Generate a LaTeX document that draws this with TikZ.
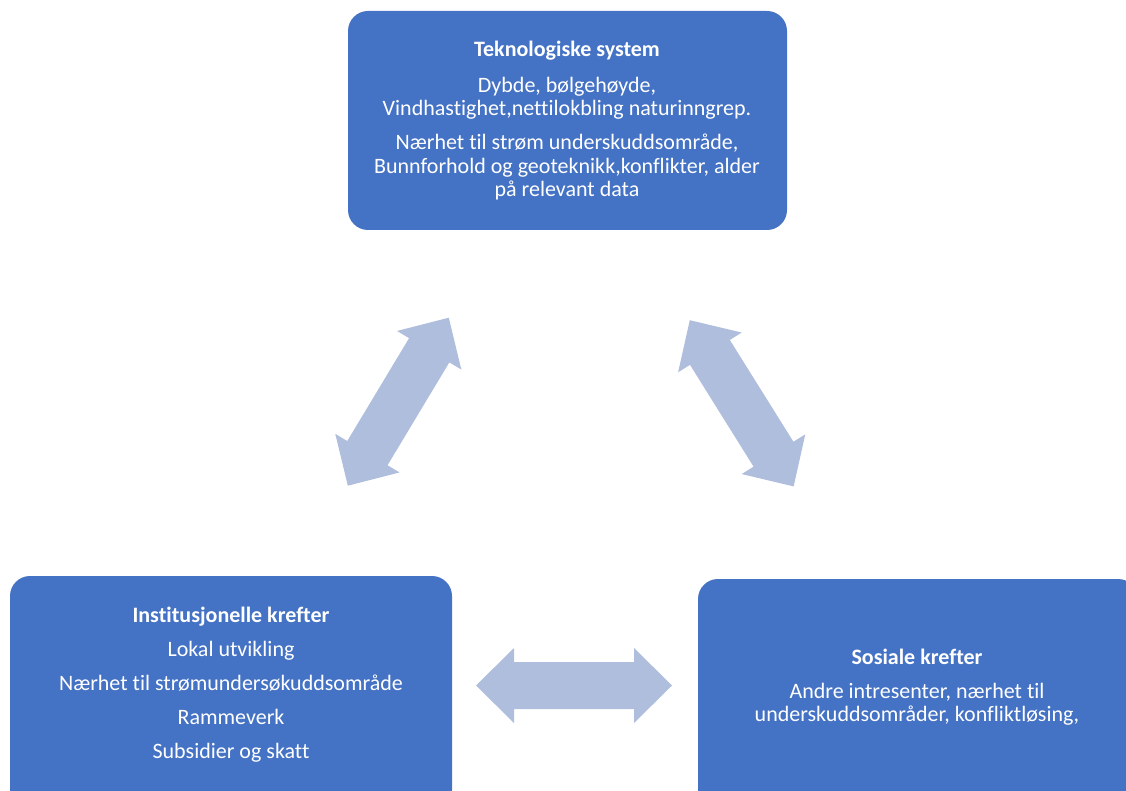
\documentclass[tikz,border=0pt]{standalone}
\usepackage{fontspec}
\setmainfont[Ligatures=NoCommon]{Carlito}
\definecolor{boxblue}{HTML}{4472C4}
\definecolor{arrowblue}{HTML}{B0BEDE}
\tikzset{
  panel/.style={fill=boxblue, draw=none, rounded corners=20pt, inner sep=0pt},
  paneltext/.style={text=white, align=center, inner sep=0pt,
    font=\fontsize{22}{23.5}\selectfont},
  dblarrow/.pic={
    \fill[arrowblue] (-98,0) -- (-60,-37.5) -- (-60,-23.5) -- (60,-23.5)
      -- (60,-37.5) -- (98,0) -- (60,37.5) -- (60,23.5) -- (-60,23.5)
      -- (-60,37.5) -- cycle;
  }
}
\begin{document}
\begin{tikzpicture}[x=1pt,y=-1pt]
\useasboundingbox (0,0) rectangle (1126,791);
\clip (0,0) rectangle (1126,791);

% the three panels
\node[panel, minimum width=439pt, minimum height=219pt] (tech) at (567.5,120.5) {};
\node[panel, minimum width=442pt, minimum height=234pt] (inst) at (231,693) {};
\node[panel, minimum width=440pt, minimum height=231pt] (sos) at (918,694.5) {};

\node[paneltext] (techtext) at (567,121) {\textbf{Teknologiske system}\\[12pt]
  Dybde, bølgehøyde,\\
  Vindhastighet,nettilokbling naturinngrep.\\[10.5pt]
  Nærhet til strøm underskuddsområde,\\
  Bunnforhold og geoteknikk,konflikter, alder\\
  på relevant data};

\node[paneltext] (insttext) at (231,685) {\textbf{Institusjonelle krefter}\\[10.5pt]
  Lokal utvikling\\[10.5pt]
  Nærhet til strømundersøkuddsområde\\[10.5pt]
  Rammeverk\\[10.5pt]
  Subsidier og skatt};

\node[paneltext] (sostext) at (917,687) {\textbf{Sosiale krefter}\\[10.5pt]
  Andre intresenter, nærhet til\\
  underskuddsområder, konfliktløsing,};

% block arrows between the panels
\coordinate (ti) at (398.3,401.7);
\coordinate (ts) at (741.7,403.3);
\coordinate (is) at (574,685.5);
\pic[rotate=59] at (ti) {dblarrow};
\pic[rotate=-58] at (ts) {dblarrow};
\pic at (is) {dblarrow};
\end{tikzpicture}
\end{document}
